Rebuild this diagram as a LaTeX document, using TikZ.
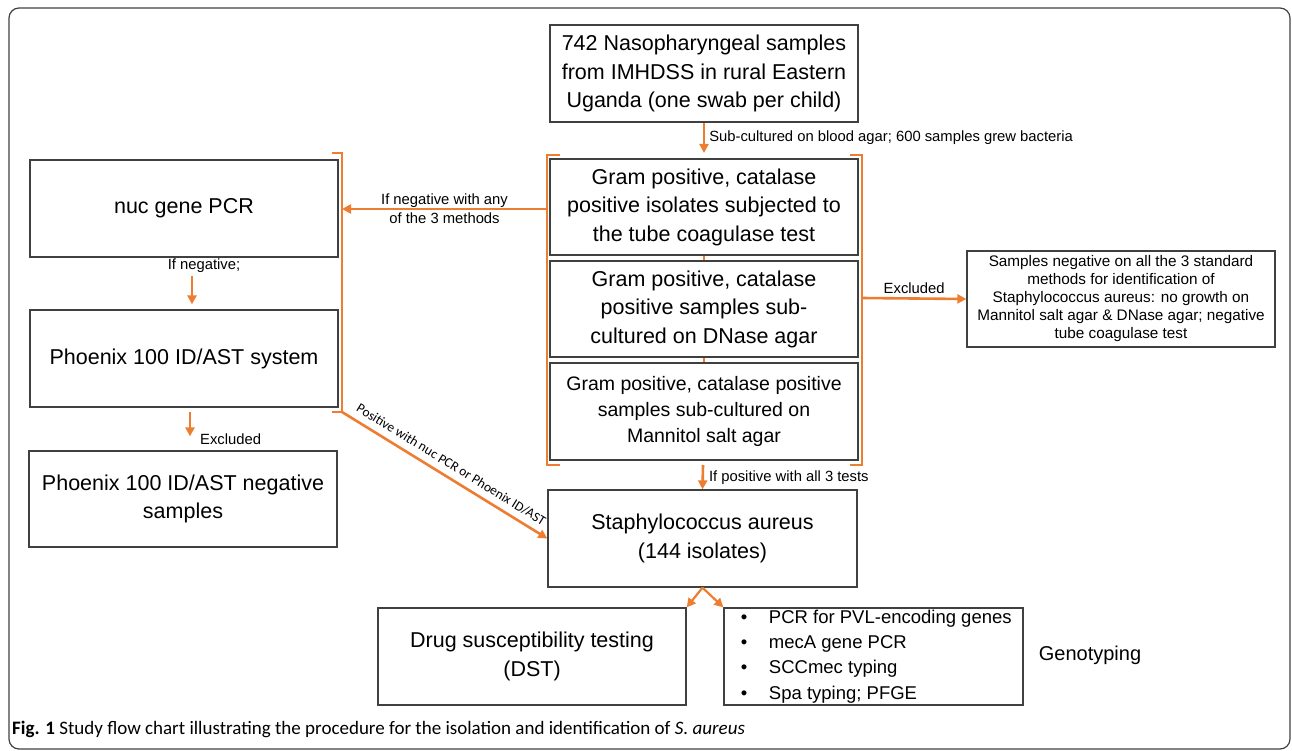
\documentclass[tikz,border=0pt]{standalone}
\usepackage{fontspec}
\setmainfont{Liberation Sans}
\newfontfamily\capfont{Carlito}
\usetikzlibrary{arrows.meta}
\definecolor{flow}{RGB}{237,125,49}
\definecolor{edge}{RGB}{64,64,64}
\tikzset{
	box/.style={draw=edge,line width=1.3pt,align=center,inner sep=0pt},
	bigbox/.style={box,minimum width=308pt,minimum height=97pt,font=\fontsize{21.5}{28.5}\selectfont},
	flowline/.style={draw=flow,line width=2.6pt},
	lbl/.style={font=\fontsize{14.8}{19}\selectfont,inner sep=1pt}
}
\begin{document}
\begin{tikzpicture}[x=1pt,y=-1pt,>={Triangle[length=9pt,width=9pt]}]
	\useasboundingbox (0,0) rectangle (1292,751);
	\draw[edge,line width=1.2pt,rounded corners=10pt] (9,8) rectangle (1290,749);
	\node[bigbox] (src) at (704,73.5) {742 Nasopharyngeal samples\\from IMHDSS in rural Eastern\\Uganda (one swab per child)};
	\node[bigbox,minimum height=96pt] (tcoag) at (704,207) {Gram positive, catalase\\positive isolates subjected to\\the tube coagulase test};
	\node[bigbox,minimum height=96pt] (dnase) at (704,309) {Gram positive, catalase\\positive samples sub-\\cultured on DNase agar};
	\node[bigbox,font=\fontsize{19.5}{26}\selectfont] (msa) at (704,411.5) {Gram positive, catalase positive\\samples sub-cultured on\\Mannitol salt agar};
	\node[bigbox] (nuc) at (184,208.5) {nuc gene PCR};
	\node[bigbox] (phx) at (184,358.5) {Phoenix 100 ID/AST system};
	\node[bigbox,minimum height=96pt] (phxneg) at (183,499) {Phoenix 100 ID/AST negative\\samples};
	\node[bigbox,minimum width=309pt] (staph) at (702.5,538.5) {Staphylococcus aureus\\(144 isolates)};
	\node[bigbox] (dst) at (532,656.5) {Drug susceptibility testing\\(DST)};
	\node[box,minimum width=299pt,minimum height=97pt,align=left,font=\fontsize{18.5}{25.3}\selectfont] (geno) at (873.5,656.5) {%
		\makebox[39pt][l]{\hspace{11pt}\textbullet}PCR for PVL-encoding genes\\
		\makebox[39pt][l]{\hspace{11pt}\textbullet}mecA gene PCR\\
		\makebox[39pt][l]{\hspace{11pt}\textbullet}SCCmec typing\\
		\makebox[39pt][l]{\hspace{11pt}\textbullet}Spa typing; PFGE\hspace*{100pt}};
	\node[font=\fontsize{20}{24}\selectfont] (genolab) at (1090,655) {Genotyping};
	\node[box,minimum width=308pt,minimum height=96pt,font=\fontsize{15.3}{18}\selectfont] (excl) at (1121,299) {Samples negative on all the 3 standard\\methods for identification of\\Staphylococcus aureus: no growth on\\Mannitol salt agar \& DNase agar; negative\\tube coagulase test};
	\path (704,153) coordinate (btop)
	(547,209) coordinate (bleft)
	(862,298) coordinate (bright)
	(703,465) coordinate (bbot)
	(342,209) coordinate (lmid)
	(342,412) coordinate (lbot);
	\draw[flowline] (560,155)--(547,155)--(547,465)--(560,465);
	\draw[flowline] (850,155)--(862,155)--(862,465)--(850,465);
	\draw[flowline] (332,153)--(342,153)--(342,412)--(332,412);
	\draw[draw=flow,line width=1.5pt] (tcoag.south)--(dnase.north) (dnase.south)--(msa.north);
	\draw[flowline,->] (src.south)--(btop) node[lbl,midway,anchor=west,xshift=3pt] (sublab) {Sub-cultured on blood agar; 600 samples grew bacteria};
	\draw[flowline,->] (bleft)--(lmid) node[lbl,midway,align=center] (neglab) {If negative with any\\of the 3 methods};
	\draw[flowline,->] (bright)--(excl.west) node[lbl,midway,above=3pt] (exlab) {Excluded};
	\draw[flowline,->] (bbot)--(staph.north) node[lbl,midway,anchor=west,xshift=4pt] (poslab) {If positive with all 3 tests};
	\draw[flowline,->] (lbot)--(staph.west) node[sloped,midway,above=3pt,font=\capfont\fontsize{13.5}{16}\selectfont] (diaglab) {Positive with nuc PCR or Phoenix ID/AST};
	\draw[flowline,->] ([shift={(8,18)}]nuc.south)--([shift={(8,-5)}]phx.north);
	\node[lbl] (ifneg) at (204,266) {If negative;};
	\draw[flowline,->] ([shift={(6,4)}]phx.south)--([shift={(7,-14)}]phxneg.north);
	\node[lbl,anchor=west] (exlab2) at (199,439) {Excluded};
	\draw[flowline,line width=2.2pt,->] (staph.south)--(dst.north east);
	\draw[flowline,line width=2.2pt,->] (staph.south)--(geno.north west);
	\node[anchor=west,inner sep=0pt,font=\capfont\fontsize{19}{22}\selectfont] (caption) at (12,729) {{\bfseries Fig. 1} Study flow chart illustrating the procedure for the isolation and identification of \textit{S. aureus}};
\end{tikzpicture}
\end{document}
